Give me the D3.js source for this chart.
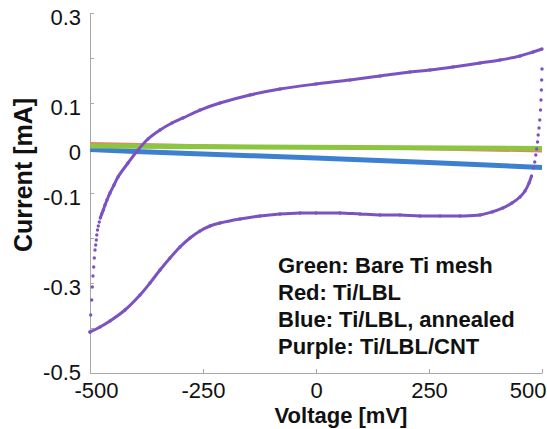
<!DOCTYPE html>
<html>
<head>
<meta charset="utf-8">
<script src="https://cdn.jsdelivr.net/npm/d3@7"></script>
<style>
body { margin: 0; background: #fff; }
text { font-family: "Liberation Sans", Arial, sans-serif; }
</style>
</head>
<body>
<svg id="chart" width="547" height="429"></svg>
<script>
// axis ticks
var voltTicks = [-500, -250, 0, 250, 500];
var currentTicks = [0.3, 0.2, 0.1, 0, -0.1, -0.2, -0.3, -0.4, -0.5];
var currentLabels = [0.3, 0.1, 0, -0.1, -0.3, -0.5];

// Green: bare Ti mesh
var greenV = [-500, 500];
var greenI = [0.0044, -0.0011];
// Red: Ti/LBL
var redV = [-500, 500];
var redI = [0.0111, -0.0078];
// Blue: Ti/LBL annealed
var blueV = [-500, -400, -250, 0, 250, 500];
var blueI = [-0.0033, -0.0078, -0.0133, -0.0222, -0.0322, -0.0433];
// Purple: Ti/LBL/CNT (forward sweep then reverse sweep)
var purpleV = [-500, -498.5, -496.2, -494.9, -493.4, -491.8, -490.5, -488.9, -487.4, -486.1, -485.0, -483.4, -481.6, -479.4, -477.2, -474.1, -470.6,
  -466.8, -462.4, -455.8, -446.9, -438.1, -415.9, -393.8, -371.7, -345.1, -318.6, -294.2, -256.6, -212.4, -146.0, -79.6, 0, 75.2, 141.6, 208.0, 252.2, 303.1, 362.8, 407.1, 451.3, 480.1, 500,
  500, 499.3, 498.7, 497.8, 496.7, 495.1, 493.4, 491.6, 490.1, 488.3, 486.3, 483.9, 480.8, 476.8, 471.3,
  462.4, 451.3, 433.6, 413.7, 389.4, 362.8, 318.6, 274.3, 230.1, 185.8, 141.6, 97.3, 53.1, 0, -35.4, -79.6, -123.9, -168.1, -212.4, -234.5, -256.6, -278.8, -300.9, -323.0, -345.1, -367.3, -389.4, -422.6, -455.8, -477.9, -500];
var purpleI = [-0.4089, -0.3711, -0.3378, -0.3089, -0.2844, -0.2644, -0.2444, -0.2267, -0.2156, -0.2044, -0.1933, -0.1822, -0.1733, -0.1644, -0.1556, -0.1467, -0.1378,
  -0.1267, -0.1156, -0.1, -0.0822, -0.0644, -0.0333, -0.0044, 0.02, 0.04, 0.0556, 0.0667, 0.0844, 0.1, 0.1178, 0.1311, 0.1422, 0.1511, 0.16, 0.1689, 0.1733, 0.18, 0.1889, 0.1956, 0.2044, 0.2133, 0.22,
  0.1756, 0.1511, 0.1289, 0.1067, 0.0844, 0.0622, 0.0444, 0.0289, 0.0133, -0.0022, -0.0156, -0.0311, -0.0444, -0.0622, -0.0778,
  -0.0956, -0.1089, -0.1222, -0.1333, -0.1422, -0.1489, -0.1511, -0.1511, -0.1511, -0.1489, -0.1489, -0.1467, -0.1444, -0.1444, -0.1444, -0.1467, -0.1511, -0.1578, -0.1667, -0.1733, -0.1844, -0.2, -0.22, -0.2444, -0.2711, -0.3, -0.3267, -0.36, -0.3844, -0.3978, -0.4089];

var legendLines = ["Green: Bare Ti mesh", "Red: Ti/LBL", "Blue: Ti/LBL, annealed", "Purple: Ti/LBL/CNT"];

var svg = d3.select("#chart"),
    margin = {top: 13, right: 5, bottom: 56, left: 90},
    width = +svg.attr("width") - margin.left - margin.right,
    height = +svg.attr("height") - margin.top - margin.bottom;

var x = d3.scaleLinear().domain([-500, 500]).range([0, width]),
    y = d3.scaleLinear().domain([-0.5, 0.3]).range([height, 0]);

var g = svg.append("g")
    .attr("transform", "translate(" + margin.left + "," + margin.top + ")");

var axisGray = "#a8a8a8";

// x axis
var xAxis = g.append("g")
    .attr("transform", "translate(0," + height + ")")
    .call(d3.axisBottom(x).tickValues(voltTicks).tickSize(-4).tickSizeOuter(0).tickPadding(9)
      .tickFormat(function(d) { return String(d); }));
xAxis.attr("font-size", 22).attr("font-family", null);
xAxis.selectAll("path, line").attr("stroke", axisGray);
xAxis.selectAll("text").attr("fill", "#111");
xAxis.selectAll("text").filter(function(d) { return d === 500; })
    .attr("text-anchor", "end").attr("dx", "4");
xAxis.selectAll("text").filter(function(d) { return d === -500; })
    .attr("dx", "6");

// y axis
var yAxis = g.append("g")
    .call(d3.axisLeft(y).tickValues(currentTicks).tickSize(-4).tickSizeOuter(0).tickPadding(9)
      .tickFormat(function(d) { return currentLabels.indexOf(d) >= 0 ? String(d) : ""; }));
yAxis.attr("font-size", 22).attr("font-family", null);
yAxis.selectAll("path, line").attr("stroke", axisGray);
yAxis.selectAll("text").attr("fill", "#111")
    .attr("dy", function(d) { return d === -0.5 ? "0.28em" : "0.5em"; });

function series(vs, is) {
  return vs.map(function(v, i) { return [v, is[i]]; });
}

var line = d3.line()
    .x(function(d) { return x(d[0]); })
    .y(function(d) { return y(d[1]); });

g.append("path").datum(series(blueV, blueI))
    .attr("fill", "none").attr("stroke", "#3d80d0").attr("stroke-width", 5)
    .attr("d", line.curve(d3.curveMonotoneX));

g.append("path").datum(series(redV, redI))
    .attr("fill", "none").attr("stroke", "#e8806c").attr("stroke-width", 2)
    .attr("d", line.curve(d3.curveLinear));

g.append("path").datum(series(greenV, greenI))
    .attr("fill", "none").attr("stroke", "#8cc540").attr("stroke-width", 5)
    .attr("d", line.curve(d3.curveLinear));

// purple: samples merge into a line where the curve is flat, separate dots where steep
var purple = series(purpleV, purpleI);
var runs = [], run = [purple[0]];
for (var i = 1; i < purple.length; i++) {
  var dx = Math.abs(x(purple[i][0]) - x(purple[i-1][0])),
      dy = Math.abs(y(purple[i][1]) - y(purple[i-1][1]));
  if (dy <= 3 * dx) {
    run.push(purple[i]);
  } else {
    if (run.length > 1) runs.push(run);
    run = [purple[i]];
  }
}
if (run.length > 1) runs.push(run);

var purpleColor = "#7b53c1";
g.selectAll(".purpleRun")
    .data(runs)
    .enter().append("path")
    .attr("class", "purpleRun")
    .attr("fill", "none").attr("stroke", purpleColor).attr("stroke-width", 3)
    .attr("d", line.curve(d3.curveCatmullRom));

g.selectAll(".purpleDot")
    .data(purple)
    .enter().append("circle")
    .attr("class", "purpleDot")
    .attr("fill", purpleColor)
    .attr("cx", function(d) { return x(d[0]); })
    .attr("cy", function(d) { return y(d[1]); })
    .attr("r", 1.7);

// legend text
svg.append("g").selectAll("text")
    .data(legendLines)
    .enter().append("text")
    .attr("x", 278)
    .attr("y", function(d, i) { return 272.5 + i * 27; })
    .attr("font-size", 22).attr("font-weight", "bold").attr("fill", "#111")
    .text(function(d) { return d; });

// axis titles
svg.append("text")
    .attr("x", 341).attr("y", 423)
    .attr("text-anchor", "middle")
    .attr("font-size", 22).attr("font-weight", "bold").attr("fill", "#111")
    .text("Voltage [mV]");

svg.append("text")
    .attr("transform", "translate(32,175) rotate(-90)")
    .attr("text-anchor", "middle")
    .attr("font-size", 25).attr("font-weight", "bold").attr("fill", "#111")
    .text("Current [mA]");
</script>
</body>
</html>
